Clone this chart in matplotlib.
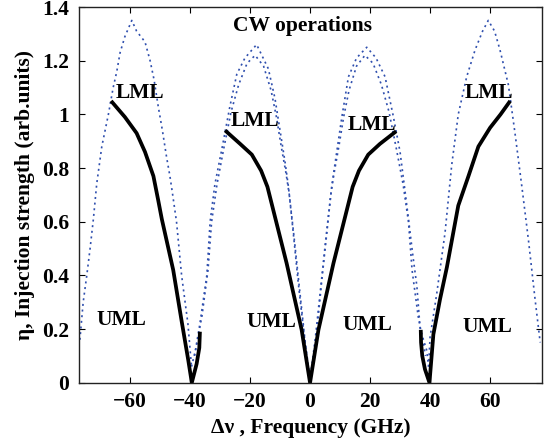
import matplotlib
matplotlib.use("Agg")
import matplotlib.pyplot as plt

# ── data ────────────────────────────────────────────────────
# dotted blue boundaries (one list per lobe)
arch1_x = [-76.7, -75.6, -74.4, -73.3, -72.2, -71.1, -69.4, -67.2, -65.6, -64.4, -63.3,
           -61.7, -59.4, -57.8, -55.0, -53.3, -52.0, -50.6, -49.2, -47.8, -46.7, -45.9,
           -44.5, -42.8, -40.7, -39.5]
arch1_y = [0.16, 0.30, 0.40, 0.50, 0.61, 0.74, 0.88, 1.00, 1.10, 1.16, 1.23,
           1.29, 1.35, 1.31, 1.27, 1.20, 1.13, 1.03, 0.94, 0.84, 0.77, 0.71,
           0.60, 0.40, 0.22, 0.06]
arch2_x = [-39.5, -38.2, -36.7, -34.4, -33.3, -31.7, -29.4, -26.7, -24.4, -21.7, -17.8,
           -13.9, -11.7, -10.0, -8.3, -7.2, -5.6, -4.0, -2.0, -0.3]
arch2_y = [0.06, 0.12, 0.22, 0.40, 0.60, 0.74, 0.87, 1.03, 1.15, 1.21, 1.26,
           1.17, 1.06, 0.94, 0.82, 0.73, 0.56, 0.38, 0.18, 0.03]
arch3_x = [0.3, 1.1, 2.5, 3.9, 5.8, 7.2, 8.9, 10.6, 12.8, 15.5, 18.9, 22.0, 25.0,
           27.8, 30.0, 31.7, 32.8, 34.2, 35.6, 36.7, 38.9, 39.5]
arch3_y = [0.03, 0.085, 0.22, 0.38, 0.58, 0.73, 0.86, 0.99, 1.14, 1.21, 1.25, 1.21, 1.14,
           0.99, 0.86, 0.71, 0.61, 0.48, 0.36, 0.20, 0.12, 0.06]
arch4_x = [39.5, 40.0, 42.2, 45.0, 47.2, 49.4, 52.2, 55.0, 57.5, 59.4, 61.5, 63.3,
           66.1, 68.3, 70.6, 72.8, 75.0, 76.7]
arch4_y = [0.06, 0.17, 0.33, 0.56, 0.81, 1.00, 1.14, 1.24, 1.31, 1.35, 1.31, 1.24,
           1.11, 0.93, 0.73, 0.53, 0.31, 0.15]

# second (inner) dotted boundary of the two middle lobes
arch2b_x = [-38.5, -36.0, -34.0, -32.8, -31.0, -28.8, -26.3, -23.8, -21.0, -18.3,
            -15.5, -13.0, -11.2, -9.6, -8.0, -6.9, -5.3, -3.7, -1.8, -0.2]
arch2b_y = [0.10, 0.25, 0.42, 0.60, 0.74, 0.87, 1.01, 1.11, 1.19, 1.22,
            1.18, 1.09, 0.99, 0.88, 0.78, 0.70, 0.54, 0.37, 0.17, 0.03]
arch3b_x = [0.2, 1.8, 3.7, 5.3, 6.9, 8.0, 9.6, 11.2, 13.0, 15.5, 18.3, 21.0,
            23.8, 26.3, 28.8, 31.0, 32.8, 34.0, 36.0, 38.5]
arch3b_y = [0.03, 0.17, 0.37, 0.54, 0.70, 0.78, 0.88, 0.99, 1.09, 1.18, 1.22, 1.19,
            1.11, 1.01, 0.87, 0.74, 0.60, 0.42, 0.25, 0.10]

# solid black boundaries
lineA_x = [-66.3, -61.7, -57.8, -55.0, -52.2, -50.6, -49.4, -45.6, -42.8, -40.6,
           -39.4, -37.8, -36.9, -36.7]
lineA_y = [1.05, 0.99, 0.93, 0.86, 0.77, 0.68, 0.61, 0.42, 0.23, 0.085,
           0.0, 0.07, 0.13, 0.19]
lineB_x = [-28.3, -23.3, -19.4, -16.3, -14.2, -7.8, -2.8, 0.0, 2.8, 7.8, 14.2,
           16.3, 19.4, 23.3, 28.7]
lineB_y = [0.94, 0.89, 0.85, 0.79, 0.73, 0.445, 0.197, 0.0, 0.197, 0.445, 0.73,
           0.79, 0.85, 0.89, 0.937]
lineC_x = [36.9, 37.0, 37.4, 38.3, 39.8, 41.1, 43.3, 45.6, 49.4, 52.8, 56.1,
           60.0, 63.5, 66.7]
lineC_y = [0.197, 0.15, 0.10, 0.05, 0.0, 0.18, 0.31, 0.43, 0.66, 0.77, 0.88,
           0.95, 1.0, 1.05]

# region labels
lml_x = [-56.7, -18.5, 20.5, 59.8]
lml_y = [1.08, 0.975, 0.96, 1.08]
uml_x = [-63.0, -12.8, 19.2, 59.0]
uml_y = [0.233, 0.226, 0.215, 0.208]

x_ticks = [-60, -40, -20, 0, 20, 40, 60]
y_ticks = [0, 0.2, 0.4, 0.6, 0.8, 1.0, 1.2, 1.4]
y_tick_labels = ["0", "0.2", "0.4", "0.6", "0.8", "1", "1.2", "1.4"]

# ── plotting ────────────────────────────────────────────────
plt.rcParams["font.family"] = ["Liberation Serif", "DejaVu Serif"]
plt.rcParams["font.weight"] = "bold"
fs = 15.5

fig = plt.figure(figsize=(5.47, 4.46), dpi=100)
ax = fig.add_axes([0.1444, 0.1419, 0.8459, 0.8424])

blue = "#2f4fae"
for xs, ys in [(arch1_x, arch1_y), (arch2_x, arch2_y), (arch3_x, arch3_y),
               (arch4_x, arch4_y), (arch2b_x, arch2b_y), (arch3b_x, arch3b_y)]:
    ax.plot(xs, ys, linestyle=(0, (1.2, 2.2)), color=blue, linewidth=1.2)

for xs, ys in [(lineA_x, lineA_y), (lineB_x, lineB_y), (lineC_x, lineC_y)]:
    ax.plot(xs, ys, color="black", linewidth=2.7, solid_capstyle="butt",
            solid_joinstyle="round")

for x, y in zip(lml_x, lml_y):
    ax.text(x, y, "LML", ha="center", va="center", fontsize=fs, fontweight="bold")
for x, y in zip(uml_x, uml_y):
    ax.text(x, y, "UML", ha="center", va="center", fontsize=fs, fontweight="bold")
ax.text(-2.6, 1.33, "CW operations", ha="center", va="center",
        fontsize=fs, fontweight="bold")

ax.set_xlim(-77, 77.2)
ax.set_ylim(0, 1.4)
ax.set_xticks(x_ticks)
ax.set_xticklabels(["\u2212%d" % -t if t < 0 else "%d" % t for t in x_ticks])
ax.set_yticks(y_ticks)
ax.set_yticklabels(y_tick_labels)
ax.tick_params(direction="in", top=True, right=True, length=4, width=0.8,
               labelsize=fs, pad=7)
for s in ax.spines.values():
    s.set_linewidth(1.0)
    s.set_color("#222222")

ax.set_xlabel("\u0394\u03bd , Frequency (GHz)", fontsize=fs, fontweight="bold", labelpad=4)
ax.set_ylabel("\u03b7, Injection strength (arb.units)", fontsize=fs,
              fontweight="bold", labelpad=5)

fig.savefig("out.png", dpi=100)
